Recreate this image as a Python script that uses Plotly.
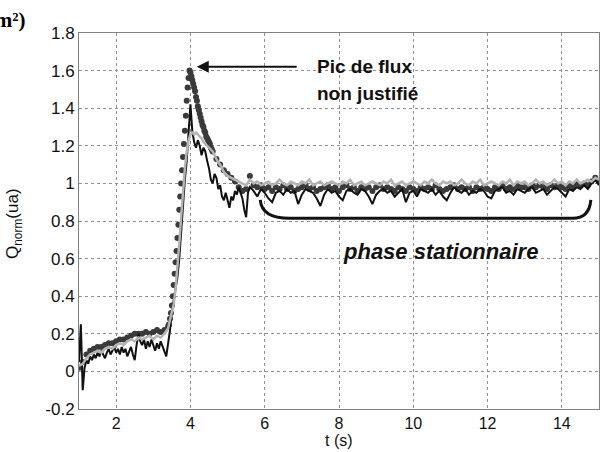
import numpy as np
import plotly.graph_objects as go

# ---------------- data ----------------
# black noisy line
black_early = [0.05, 0.25, -0.10, 0.02, 0.06, 0.04, 0.08, 0.06, 0.09, 0.07,
               0.10, 0.08, 0.11, 0.09, 0.07, 0.10, 0.12, 0.09, 0.11, 0.13,
               0.10, 0.12, 0.09, 0.13, 0.10, 0.12, 0.08, 0.11, 0.13, 0.09,
               0.06, 0.14, 0.20, 0.16, 0.14, 0.17, 0.12, 0.16, 0.13, 0.17,
               0.14, 0.11, 0.15, 0.12, 0.16, 0.13, 0.10, 0.08, 0.15]          # t = 1.00 .. step 0.05
black_peak = [0.22, 0.32, 0.38, 0.43, 0.50, 0.60, 0.75, 0.90, 1.02, 1.12,
              1.30, 1.42, 1.28, 1.22, 1.19, 1.23, 1.20, 1.15, 1.19, 1.17,
              1.12, 1.08, 1.02, 1.00, 1.05, 1.03, 0.97, 0.99, 0.93, 0.91,
              0.95, 0.90, 0.87, 0.93, 0.91, 0.96, 0.94, 0.98, 0.95, 0.92,
              0.86, 0.82, 0.95, 0.98]                                          # t = 3.45 .. step 0.05
black_steady = [0.96, 0.93, 0.97, 0.95, 0.92, 0.90, 0.95, 0.96, 0.94, 0.97,
                0.95, 0.96, 0.89, 0.94, 0.97, 0.96, 0.95, 0.92, 0.88, 0.94,
                0.97, 0.95, 0.96, 0.93, 0.91, 0.96, 0.97, 0.95, 0.94, 0.97,
                0.96, 0.93, 0.89, 0.94, 0.96, 0.97, 0.95, 0.96, 0.93, 0.95,
                0.97, 0.90, 0.95, 0.96, 0.93, 0.97, 0.96, 0.95, 0.97, 0.94,
                0.96, 0.93, 0.91, 0.95, 0.98, 0.96, 0.95, 0.97, 0.94, 0.96,
                0.95, 0.97, 0.96, 0.93, 0.92, 0.96, 0.97, 0.98, 0.95, 0.96,
                0.94, 0.97, 0.96, 0.95, 0.97, 0.98, 0.95, 0.96, 0.97, 0.94,
                0.96, 0.98, 0.97, 0.95, 0.93, 0.97, 0.96, 0.98, 0.97, 0.99,
                0.97, 1.00, 1.02, 0.99]                                        # t = 5.7 .. step 0.1

# dark grey dotted series
dots_early = [0.02, 0.05, 0.09, 0.11, 0.12, 0.13, 0.13, 0.14, 0.15, 0.15,
              0.16, 0.17, 0.17, 0.18, 0.19, 0.20, 0.20, 0.20, 0.21, 0.20,
              0.21, 0.22, 0.21, 0.22, 0.24]                                    # t = 1.0 .. step 0.1
dots_peak = [0.25, 0.28, 0.31, 0.35, 0.40, 0.46, 0.52, 0.58, 0.64, 0.71,
             0.78, 0.86, 0.93, 1.00, 1.07, 1.14, 1.21, 1.28, 1.36, 1.44,
             1.51, 1.56, 1.60, 1.59, 1.57, 1.55, 1.53, 1.51, 1.49, 1.46,
             1.44, 1.41, 1.39, 1.37, 1.35, 1.33, 1.31, 1.30, 1.28, 1.27,
             1.25, 1.24, 1.23, 1.22, 1.21, 1.19, 1.18, 1.17]                   # t = 3.425 .. step 0.025
dots_steady = [1.13, 1.10, 1.07, 1.05, 1.03, 1.01, 0.98, 0.96, 0.97, 1.04,
               0.99, 0.98, 0.99, 0.97, 0.98, 0.96, 0.98, 0.97, 0.99, 0.97,
               0.98, 0.96, 0.97, 0.98, 0.99, 0.97, 0.98, 0.96, 0.97, 0.98,
               0.99, 0.97, 0.98, 0.96, 0.98, 0.99, 0.97, 0.98, 0.96, 0.98,
               0.97, 0.98, 0.96, 0.98, 0.99, 0.97, 0.98, 0.97, 0.96, 0.98,
               0.97, 0.96, 0.98, 0.97, 0.96, 0.98, 0.97, 0.98, 0.97, 0.99,
               0.97, 0.96, 0.97, 0.98, 0.99, 0.97, 0.98, 0.97, 0.98, 0.96,
               0.98, 0.97, 0.98, 0.97, 0.96, 0.98, 0.97, 0.99, 0.97, 0.98,
               0.97, 0.99, 0.98, 0.98, 0.97, 0.99, 0.98, 0.99, 0.98, 0.97,
               0.99, 0.98, 0.99, 0.98, 0.97, 0.99, 0.98, 1.00, 0.99, 1.00,
               0.99, 1.01, 1.03, 1.01]                                         # t = 4.7 .. step 0.1

# light grey line
grey_early = [0.03, 0.04, 0.07, 0.09, 0.10, 0.11, 0.10, 0.12, 0.13, 0.12,
              0.14, 0.15, 0.14, 0.16, 0.17, 0.16, 0.18, 0.17, 0.18, 0.19,
              0.17, 0.19, 0.18, 0.20, 0.23]                                    # t = 1.0 .. step 0.1
grey_peak = [0.27, 0.31, 0.36, 0.44, 0.55, 0.68, 0.82, 0.97, 1.08, 1.17,
             1.23, 1.26, 1.27, 1.26, 1.27, 1.26, 1.25, 1.24, 1.22, 1.21,
             1.20, 1.19, 1.18, 1.17, 1.15, 1.13, 1.11, 1.10, 1.08, 1.06,
             1.05, 1.04]                                                       # t = 3.45 .. step 0.05
grey_steady = [1.03, 1.02, 1.01, 1.00, 0.99, 1.02, 1.00, 1.01, 0.99, 1.00,
               1.01, 0.99, 1.00, 1.02, 1.00, 0.99, 1.01, 1.00, 0.99, 1.01,
               1.00, 1.02, 0.99, 1.00, 1.01, 0.99, 1.00, 1.01, 1.00, 0.99,
               1.01, 1.00, 1.02, 0.99, 1.00, 1.01, 0.99, 1.00, 1.01, 1.00,
               0.99, 1.01, 1.00, 1.02, 0.99, 1.00, 1.01, 0.99, 1.00, 1.01,
               1.00, 0.99, 1.01, 1.00, 1.02, 1.00, 0.99, 1.01, 1.00, 1.01,
               0.99, 1.00, 1.02, 1.00, 0.99, 1.01, 1.00, 1.02, 0.99, 1.00,
               1.01, 1.00, 0.99, 1.01, 1.00, 1.02, 0.99, 1.01, 1.00, 1.01,
               0.99, 1.00, 1.02, 1.00, 1.01, 0.99, 1.00, 1.02, 1.00, 1.01,
               0.99, 1.01, 1.00, 1.02, 1.00, 1.01, 1.02, 1.01, 1.03, 1.02]     # t = 5.1 .. step 0.1

x_tickvals = [2, 4, 6, 8, 10, 12, 14]
y_tickvals = [-0.2, 0, 0.2, 0.4, 0.6, 0.8, 1, 1.2, 1.4, 1.6, 1.8]
y_ticktext = ["-0.2", "0", "0.2", "0.4", "0.6", "0.8", "1", "1.2", "1.4", "1.6", "1.8"]


def seg(start, step, vals):
    return list(np.round(start + step * np.arange(len(vals)), 4))


t_black = seg(1.0, 0.05, black_early) + seg(3.45, 0.05, black_peak) + seg(5.7, 0.1, black_steady)
y_black = black_early + black_peak + black_steady
t_dots = seg(1.0, 0.1, dots_early) + seg(3.425, 0.025, dots_peak) + seg(4.7, 0.1, dots_steady)
y_dots = dots_early + dots_peak + dots_steady
t_grey = seg(1.0, 0.1, grey_early) + seg(3.45, 0.05, grey_peak) + seg(5.1, 0.1, grey_steady)
y_grey = grey_early + grey_peak + grey_steady

fig = go.Figure()
fig.add_trace(go.Scatter(x=t_dots, y=y_dots, mode="markers",
                         marker=dict(color="#3a3a3a", size=6, line=dict(width=0)),
                         showlegend=False))
fig.add_trace(go.Scatter(x=t_black, y=y_black, mode="lines",
                         line=dict(color="#111111", width=2), showlegend=False))
fig.add_trace(go.Scatter(x=t_grey, y=y_grey, mode="lines",
                         line=dict(color="#b4b4b4", width=2.5), showlegend=False))

axis_common = dict(showline=True, mirror=True, linecolor="#808080", linewidth=1,
                   showgrid=True, gridcolor="#909090", griddash="dot", gridwidth=1,
                   zeroline=False, ticks="", automargin=False)

fig.update_xaxes(range=[1, 15], tickvals=x_tickvals,
                 tickfont=dict(family="Liberation Sans, Arial", size=16, color="#111"),
                 **axis_common)
fig.update_yaxes(range=[-0.2, 1.8], tickvals=y_tickvals, ticktext=y_ticktext,
                 tickfont=dict(family="Liberation Sans, Arial", size=17, color="#111"),
                 **axis_common)

ann_font = dict(family="Liberation Sans, Arial", size=19, color="#111")
annotations = [
    dict(x=4.17, y=1.62, ax=6.9, ay=1.62, xref="x", yref="y", axref="x", ayref="y",
         showarrow=True, arrowhead=2, arrowsize=1.2, arrowwidth=2, arrowcolor="#111", text=""),
    dict(x=7.36, y=1.62, xref="x", yref="y", xanchor="left", yanchor="middle", showarrow=False,
         text="<b>Pic de flux</b>", font=ann_font),
    dict(x=7.36, y=1.477, xref="x", yref="y", xanchor="left", yanchor="middle", showarrow=False,
         text="<b>non justifié</b>", font=ann_font),
    dict(x=10.73, y=0.64, xref="x", yref="y", xanchor="center", yanchor="middle", showarrow=False,
         text="<b><i>phase stationnaire</i></b>",
         font=dict(family="Liberation Sans, Arial", size=22, color="#111")),
    dict(x=-0.125, y=0.492, xref="paper", yref="paper", xanchor="center", yanchor="middle",
         textangle=-90, showarrow=False, text="Q<sub>norm</sub>(ua)",
         font=dict(family="Liberation Sans, Arial", size=17, color="#111")),
    dict(x=0.5, y=-0.084, xref="paper", yref="paper", xanchor="center", yanchor="middle",
         showarrow=False, text="t (s)",
         font=dict(family="Liberation Sans, Arial", size=16, color="#111")),
    dict(x=-0.0981, y=1.035, xref="paper", yref="paper", xanchor="right", yanchor="middle",
         showarrow=False, text="<b>(W/m²)</b>",
         font=dict(family="Liberation Serif, Times New Roman", size=21, color="#000")),
]

shapes = [
    dict(type="path", xref="x", yref="y",
         path="M 5.88 0.912 Q 5.92 0.814 6.67 0.814 L 14.29 0.814 Q 14.74 0.814 14.78 0.912",
         line=dict(color="#111", width=3)),
]

fig.update_layout(width=604, height=452, margin=dict(l=79, r=5, t=33, b=43),
                  autosize=False,
                  paper_bgcolor="white", plot_bgcolor="white",
                  annotations=annotations, shapes=shapes)

fig.write_html("out.html", config={"displayModeBar": False},
               post_script="document.body.style.margin='0';document.body.style.overflow='hidden';")
